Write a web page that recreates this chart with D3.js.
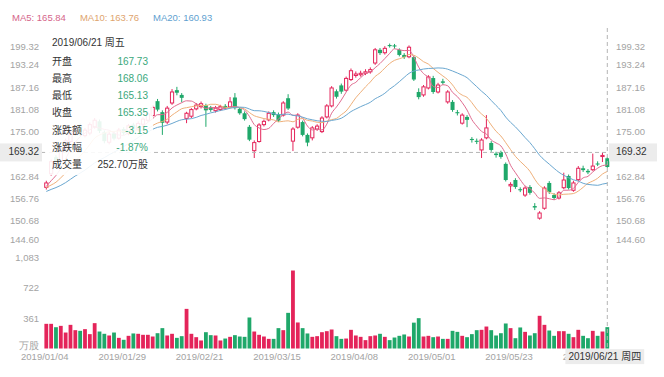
<!DOCTYPE html>
<html>
<head>
<meta charset="utf-8">
<script src="https://cdn.jsdelivr.net/npm/d3@7"></script>
<style>
body { margin: 0; background: #fff; }
svg { font-family: "Liberation Sans", "Noto Sans CJK SC", sans-serif; }
</style>
</head>
<body>
<div id="chart"></div>
<script>
// trading days shown on the chart
const dates = [
  '2019/01/04','2019/01/07','2019/01/08','2019/01/09','2019/01/10','2019/01/11','2019/01/14','2019/01/15','2019/01/16','2019/01/17',
  '2019/01/18','2019/01/22','2019/01/23','2019/01/24','2019/01/25','2019/01/28','2019/01/29','2019/01/30','2019/01/31','2019/02/01',
  '2019/02/04','2019/02/05','2019/02/06','2019/02/07','2019/02/08','2019/02/11','2019/02/12','2019/02/13','2019/02/14','2019/02/15',
  '2019/02/19','2019/02/20','2019/02/21','2019/02/22','2019/02/25','2019/02/26','2019/02/27','2019/02/28','2019/03/01','2019/03/04',
  '2019/03/05','2019/03/06','2019/03/07','2019/03/08','2019/03/11','2019/03/12','2019/03/13','2019/03/14','2019/03/15','2019/03/18',
  '2019/03/19','2019/03/20','2019/03/21','2019/03/22','2019/03/25','2019/03/26','2019/03/27','2019/03/28','2019/03/29','2019/04/01',
  '2019/04/02','2019/04/03','2019/04/04','2019/04/05','2019/04/08','2019/04/09','2019/04/10','2019/04/11','2019/04/12','2019/04/15',
  '2019/04/16','2019/04/17','2019/04/18','2019/04/22','2019/04/23','2019/04/24','2019/04/25','2019/04/26','2019/04/29','2019/04/30',
  '2019/05/01','2019/05/02','2019/05/03','2019/05/06','2019/05/07','2019/05/08','2019/05/09','2019/05/10','2019/05/13','2019/05/14',
  '2019/05/15','2019/05/16','2019/05/17','2019/05/20','2019/05/21','2019/05/22','2019/05/23','2019/05/24','2019/05/28','2019/05/29',
  '2019/05/30','2019/05/31','2019/06/03','2019/06/04','2019/06/05','2019/06/06','2019/06/07','2019/06/10','2019/06/11','2019/06/12',
  '2019/06/13','2019/06/14','2019/06/17','2019/06/18','2019/06/19','2019/06/20','2019/06/21'
];

const opens = [
  159.8,163.5,168.0,167.0,170.6,172.3,174.4,176.5,173.9,174.6, 176.3,177.8,174.8,172.1,174.5,173.2,175.7,174.4,176.9,175.5,
  177.0,178.1,179.4,183.3,180.3,177.6,182.8,186.3,185.0,178.6, 179.2,181.2,181.8,182.2,181.6,180.7,181.0,182.0,181.7,184.3,
  181.2,180.0,176.3,169.8,172.3,176.9,178.2,180.3,179.8,179.5, 184.1,172.4,176.2,177.6,174.1,173.3,175.7,175.0,179.0,182.0,
  186.0,187.6,186.3,189.2,190.3,190.5,190.9,191.3,193.7,197.3, 196.5,198.6,198.5,197.3,195.9,195.4,195.3,185.8,185.0,186.9,
  189.6,185.8,188.7,183.1,183.1,180.3,177.3,179.0,173.0,172.5, 170.0,173.3,171.9,169.0,169.4,166.2,160.2,161.8,159.3,157.7,
  159.9,154.7,151.4,154.1,161.0,157.7,156.9,159.7,162.9,159.0, 161.9,165.0,164.3,164.6,166.3,168.2,167.73
];
const highs = [
  161.6,167.4,168.6,171.0,173.1,175.2,176.8,177.2,176.0,177.5, 178.7,178.3,175.3,174.9,175.0,176.0,176.2,177.1,177.4,177.8,
  178.9,180.3,182.1,183.9,180.8,182.0,186.6,187.2,185.5,180.4, 181.4,182.8,183.2,182.6,182.0,182.0,182.3,182.5,184.4,185.5,
  181.6,180.5,176.8,172.6,177.3,178.3,180.5,180.8,180.2,183.3, 185.2,176.2,180.0,178.0,174.5,176.5,177.0,179.2,182.5,187.4,
  186.5,188.1,190.0,192.2,191.4,191.6,192.0,192.5,197.8,197.8, 198.3,199.0,198.9,197.7,196.4,198.5,195.6,186.8,187.7,190.4,
  190.2,188.3,189.4,186.3,183.6,180.9,180.0,179.5,173.5,173.1, 173.2,179.5,172.4,169.5,169.8,166.6,161.2,162.3,159.8,160.1,
  160.4,155.5,153.3,160.1,161.5,158.2,158.8,163.8,163.3,161.6, 165.6,165.7,164.8,169.0,166.9,169.3,168.06
];
const lows = [
  159.2,163.0,166.3,166.6,170.1,171.9,173.9,173.8,173.4,174.0, 175.8,174.6,171.8,171.5,172.6,172.8,174.1,174.0,175.0,175.1,
  176.5,177.7,179.0,180.5,174.1,177.0,182.3,184.9,183.0,177.3, 178.7,180.8,181.3,176.3,180.4,180.2,180.6,181.0,181.4,181.0,
  179.6,178.0,172.4,167.8,172.0,176.4,177.8,179.0,177.6,179.1, 180.9,169.7,175.8,173.7,171.0,172.6,175.2,174.6,178.6,181.6,
  184.0,185.3,185.9,188.8,189.7,190.0,190.4,190.8,193.2,195.9, 196.0,197.9,197.6,195.5,194.8,195.0,188.8,183.8,184.5,186.5,
  185.3,185.4,187.8,182.6,180.4,179.4,176.9,176.2,172.0,171.6, 167.8,172.9,169.5,167.9,167.6,161.4,158.5,159.4,158.5,157.2,
  157.8,153.6,151.0,153.7,158.0,156.4,156.5,159.3,159.2,158.6, 161.5,164.0,163.4,164.3,165.6,166.7,165.13
];
const closes = [
  161.0,166.8,166.9,170.4,172.5,174.6,176.2,174.3,175.4,176.9, 178.1,175.2,172.4,174.3,173.1,175.4,174.6,176.6,175.6,177.2,
  178.4,179.8,181.6,181.0,177.4,181.4,185.8,185.6,184.2,180.0, 181.0,182.2,182.6,180.8,180.9,181.4,181.8,181.4,183.1,181.4,
  180.0,178.4,172.8,172.0,176.8,177.8,180.0,179.5,178.0,182.8, 181.3,175.7,179.5,174.1,172.0,176.0,176.5,178.7,182.0,186.9,
  184.5,185.9,189.5,191.6,190.7,190.9,191.3,191.9,197.3,196.4, 197.7,198.3,198.2,195.9,195.3,198.0,189.2,184.4,187.2,189.9,
  185.8,187.7,188.3,185.8,180.9,180.0,179.5,178.2,172.7,172.2, 172.7,176.0,170.0,168.6,168.1,161.8,160.6,159.9,159.0,159.6,
  158.3,154.3,152.8,159.6,158.5,156.9,158.3,161.8,159.6,161.0, 165.0,164.5,163.9,165.6,166.1,168.5,165.35
];
// volume in 万股
const volumes = [
  292,292,252,268,189,280,217,209,229,170, 300,201,174,154,189,126,103,150,178,174,
  162,162,142,181,241,154,174,126,146,469, 174,134,95,193,158,154,95,118,138,158,
  142,138,367,201,162,142,114,114,241,217, 422,923,308,241,178,138,146,193,205,225,
  146,114,118,221,154,138,99,146,154,174, 138,99,130,150,166,142,306,359,142,150,
  134,142,114,114,209,197,150,134,170,217, 221,260,217,154,181,296,241,122,249,197,
  154,181,387,280,213,150,205,205,174,134, 221,150,122,209,150,201,252.7
];
// closes before the first visible day, used to seed the moving averages
const prevCloses = [155.8,156.9,158.2,157.4,156.6,157.9,159.1,158.4,157.5,158.6,159.8,159.2,158.3,159.4,160.3,159.1,159.7,160.6,159.9];

// the 168.92 tick sits under the cursor price label, so it is left out
const priceTicks = [199.32, 193.24, 187.16, 181.08, 175.00, 162.84, 156.76, 150.68, 144.60];
const volumeTicks = [0, 361, 722, 1083];

const maNames = ['MA5', 'MA10', 'MA20'];
const maPeriods = [5, 10, 20];
const maLastValues = ['165.84', '163.76', '160.93'];

const tipTitle = '2019/06/21 周五';
const tipLabels = ['开盘', '最高', '最低', '收盘', '涨跌额', '涨跌幅', '成交量'];
const tipValues = ['167.73', '168.06', '165.13', '165.35', '-3.15', '-1.87%', '252.70万股'];
const cursorPrice = 169.32;
const cursorDateLabel = '2019/06/21 周四';

// colours
const upColor = '#e4245a';
const downColor = '#1fa86a';
const maColors = ['#e06b8f', '#efb07a', '#6aa7d0'];
const maTextColors = ['#d5668a', '#dea46e', '#5f9fd0'];
const axisColor = '#a3a3a3';

const W = 664, H = 377;
const svg = d3.select('#chart').append('svg')
  .attr('width', W)
  .attr('height', H);

const bars = dates.map((d, i) => ({
  date: d, open: opens[i], high: highs[i], low: lows[i], close: closes[i],
  volume: volumes[i], up: closes[i] >= opens[i]
}));

//Scales
const x = d3.scalePoint().domain(dates).range([46.3, 607.3]);
const y = d3.scaleLinear().domain([144.60, 199.32]).range([243.1, 42.4]);
const yv = d3.scaleLinear().domain([0, 1083]).range([348.5, 257]);

/*####### Volume #######*/
svg.append('g').selectAll('rect')
  .data(bars)
  .join('rect')
  .attr('x', d => x(d.date) - 1.9)
  .attr('width', 3.8)
  .attr('y', d => yv(d.volume))
  .attr('height', d => yv(0) - yv(d.volume))
  .attr('fill', d => d.up ? upColor : downColor);

/*####### Candles #######*/
const candle = svg.append('g').selectAll('g')
  .data(bars)
  .join('g');
candle.append('line')
  .attr('x1', d => x(d.date))
  .attr('x2', d => x(d.date))
  .attr('y1', d => y(d.high))
  .attr('y2', d => y(d.low))
  .attr('stroke', d => d.up ? upColor : downColor)
  .attr('stroke-width', 1);
candle.append('rect')
  .attr('x', d => x(d.date) - (d.up ? 1.6 : 2))
  .attr('width', d => d.up ? 3.2 : 4)
  .attr('y', d => y(Math.max(d.open, d.close)))
  .attr('height', d => Math.max(1, Math.abs(y(d.open) - y(d.close))))
  .attr('fill', d => d.up ? '#fff' : downColor)
  .attr('stroke', d => d.up ? upColor : 'none')
  .attr('stroke-width', 1);

/*####### Moving averages #######*/
const allCloses = prevCloses.concat(closes);
const off = prevCloses.length;
maPeriods.forEach((n, k) => {
  const ma = closes.map((c, i) => d3.mean(allCloses.slice(off + i - n + 1, off + i + 1)));
  svg.append('path')
    .datum(ma)
    .attr('fill', 'none')
    .attr('stroke', maColors[k])
    .attr('stroke-width', 1)
    .attr('d', d3.line().curve(d3.curveMonotoneX).x((d, i) => x(dates[i])).y(d => y(d)));
});

/*####### Axes #######*/
const fmt = d3.format('.2f');
function styleAxis(g, size) {
  g.select('.domain').remove();
  g.selectAll('.tick line').remove();
  g.selectAll('.tick text').attr('fill', axisColor).style('font-size', size + 'px');
}
const edgeShift = d => d === priceTicks[0] ? 'translate(0,4)' : d === priceTicks[priceTicks.length - 1] ? 'translate(0,-4)' : null;

svg.append('g')
  .attr('transform', 'translate(42,0)')
  .call(d3.axisLeft(y).tickValues(priceTicks).tickSize(0).tickPadding(3).tickFormat(fmt))
  .call(g => styleAxis(g, 9.5))
  .selectAll('.tick text').attr('transform', edgeShift);

svg.append('g')
  .attr('transform', 'translate(613,0)')
  .call(d3.axisRight(y).tickValues(priceTicks).tickSize(0).tickPadding(3).tickFormat(fmt))
  .call(g => styleAxis(g, 9.5))
  .selectAll('.tick text').attr('transform', edgeShift);

svg.append('g')
  .attr('transform', 'translate(42,0)')
  .call(d3.axisLeft(yv).tickValues(volumeTicks).tickSize(0).tickPadding(3)
    .tickFormat(d => d === 0 ? '万股' : d3.format(',')(d)))
  .call(g => styleAxis(g, 9.5))
  .selectAll('.tick text').attr('transform', d => d === 0 ? 'translate(0,-3.5)' : null);

svg.append('g')
  .attr('transform', 'translate(0,348.5)')
  .call(d3.axisBottom(x).tickValues(dates.filter((d, i) => i % 16 === 0)).tickSize(0).tickPadding(5))
  .call(g => styleAxis(g, 9.5))
  .selectAll('.tick text').attr('dx', -2);

/*####### Crosshair #######*/
const lastDate = dates[dates.length - 1];
const cx = x(lastDate), cy = y(cursorPrice);
svg.append('line')
  .attr('x1', 42).attr('x2', cx).attr('y1', cy).attr('y2', cy)
  .attr('stroke', '#b5b5b5').attr('stroke-dasharray', '4,3');
svg.append('line')
  .attr('x1', cx).attr('x2', cx).attr('y1', 28).attr('y2', 348)
  .attr('stroke', '#b5b5b5').attr('stroke-dasharray', '4,3');

/*####### Tooltip #######*/
const tip = svg.append('g');
tip.append('rect')
  .attr('x', 45).attr('y', 30).attr('width', 108).attr('height', 145)
  .attr('fill', '#fff').attr('opacity', 0.9);
tip.append('text')
  .attr('x', 52).attr('y', 43)
  .attr('dominant-baseline', 'middle')
  .style('font-size', '10px').attr('fill', '#333')
  .text(tipTitle);
tip.selectAll('.tipLabel')
  .data(tipLabels)
  .join('text')
  .attr('class', 'tipLabel')
  .attr('x', 52).attr('y', (d, i) => 62.5 + i * 17.1)
  .attr('dominant-baseline', 'middle')
  .style('font-size', '10px').attr('fill', '#333')
  .text(d => d);
tip.selectAll('.tipValue')
  .data(tipValues)
  .join('text')
  .attr('class', 'tipValue')
  .attr('x', 148).attr('y', (d, i) => 62.5 + i * 17.1)
  .attr('text-anchor', 'end')
  .attr('dominant-baseline', 'middle')
  .style('font-size', '10px')
  .attr('fill', (d, i) => i === tipValues.length - 1 ? '#333' : '#3aa87c')
  .text(d => d);

/*####### Crosshair labels #######*/
svg.append('rect').attr('x', 0).attr('y', cy - 9).attr('width', 42).attr('height', 18).attr('fill', '#ececec');
svg.append('text').attr('x', 39).attr('y', cy).attr('text-anchor', 'end').attr('dominant-baseline', 'middle')
  .style('font-size', '10px').attr('fill', '#333').text(fmt(cursorPrice));
svg.append('rect').attr('x', 609).attr('y', cy - 9).attr('width', 48).attr('height', 18).attr('fill', '#ececec');
svg.append('text').attr('x', 616).attr('y', cy).attr('dominant-baseline', 'middle')
  .style('font-size', '10px').attr('fill', '#333').text(fmt(cursorPrice));

const dateBox = svg.append('g');
const dateText = dateBox.append('text')
  .attr('x', cx - 2.5).attr('y', 357.5)
  .attr('text-anchor', 'middle').attr('dominant-baseline', 'middle')
  .style('font-size', '10px').attr('fill', '#333')
  .text(cursorDateLabel);
const bb = dateText.node().getBBox();
dateBox.insert('rect', 'text')
  .attr('x', bb.x - 3).attr('y', bb.y - 2).attr('width', bb.width + 6).attr('height', bb.height + 4)
  .attr('fill', '#ececec');

/*####### MA legend #######*/
let lx = 12;
maNames.forEach((name, k) => {
  const t = svg.append('text')
    .attr('x', lx).attr('y', 18.5)
    .attr('dominant-baseline', 'middle')
    .style('font-size', '9.5px')
    .attr('fill', maTextColors[k])
    .text(name + ': ' + maLastValues[k]);
  lx += t.node().getComputedTextLength() + 14;
});
</script>
</body>
</html>
